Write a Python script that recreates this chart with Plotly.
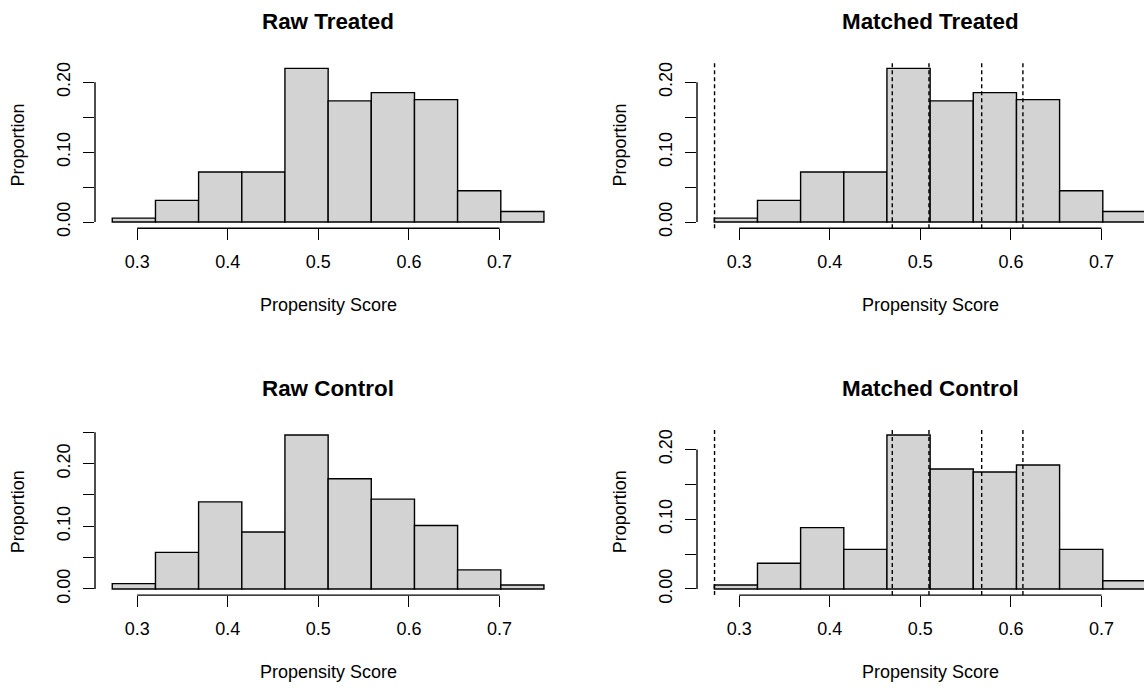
import plotly.graph_objects as go

# ---------------- data ----------------
breaks = [0.2725, 0.3202, 0.3678, 0.4155, 0.4631, 0.5108, 0.5584, 0.6061, 0.6537, 0.7014, 0.7490]

raw_treated = [0.0056, 0.0310, 0.0715, 0.0715, 0.2198, 0.1732, 0.1850, 0.1750, 0.0447, 0.0151]
matched_treated = [0.0056, 0.0310, 0.0715, 0.0715, 0.2198, 0.1732, 0.1850, 0.1750, 0.0447, 0.0151]
raw_control = [0.0084, 0.0583, 0.1390, 0.0908, 0.2457, 0.1759, 0.1433, 0.1013, 0.0304, 0.0063]
matched_control = [0.0057, 0.0369, 0.0879, 0.0567, 0.2208, 0.1721, 0.1678, 0.1778, 0.0567, 0.0118]

subclass_cuts = [0.2728, 0.4690, 0.5095, 0.5677, 0.6132]

x_ticks = [0.3, 0.4, 0.5, 0.6, 0.7]
x_tick_labels = ["0.3", "0.4", "0.5", "0.6", "0.7"]
y_ticks_020 = [0.00, 0.05, 0.10, 0.15, 0.20]
y_labels_020 = ["0.00", "", "0.10", "", "0.20"]
y_ticks_025 = [0.00, 0.05, 0.10, 0.15, 0.20, 0.25]
y_labels_025 = ["0.00", "", "0.10", "", "0.20", ""]

titles = ["Raw Treated", "Matched Treated", "Raw Control", "Matched Control"]
x_title = "Propensity Score"
y_title = "Proportion"

# ---------------- layout geometry ----------------
W, H = 1144, 695
FONT = "Liberation Sans, Arial, sans-serif"
LW = 1.4


def px(p):
    return p / W


def py(p):
    return 1 - p / H


centers = [(a + b) / 2 for a, b in zip(breaks[:-1], breaks[1:])]
widths = [b - a for a, b in zip(breaks[:-1], breaks[1:])]
ext = 0.04 * (breaks[-1] - breaks[0])
x_lo, x_hi = breaks[0] - ext, breaks[-1] + ext

left_px = (95.0, 561.2)
right_left_px = 697.0
px_per_unit = (left_px[1] - left_px[0]) / (x_hi - x_lo)
right_hi = x_lo + (W - right_left_px) / px_per_unit

rows = [(63.0, 231.2), (434.5, 602.9)]  # plot region top/bottom (pixels)

panels = [
    dict(title=titles[0], vals=raw_treated, yt=y_ticks_020, yl=y_labels_020, col=0, row=0, cuts=False),
    dict(title=titles[1], vals=matched_treated, yt=y_ticks_020, yl=y_labels_020, col=1, row=0, cuts=True),
    dict(title=titles[2], vals=raw_control, yt=y_ticks_025, yl=y_labels_025, col=0, row=1, cuts=False),
    dict(title=titles[3], vals=matched_control, yt=y_ticks_020, yl=y_labels_020, col=1, row=1, cuts=True),
]

fig = go.Figure()
layout = dict(
    width=W, height=H, autosize=False,
    margin=dict(l=0, r=0, t=0, b=0),
    paper_bgcolor="white", plot_bgcolor="white",
    showlegend=False,
    font=dict(family=FONT, color="black", size=18),
)
shapes = []
annotations = []

for i, p in enumerate(panels, start=1):
    sfx = "" if i == 1 else str(i)
    xa, ya = "x" + sfx, "y" + sfx
    fig.add_trace(go.Bar(
        x=centers, y=p["vals"], width=widths,
        marker=dict(color="#D3D3D3", line=dict(color="black", width=LW)),
        xaxis=xa, yaxis=ya, hoverinfo="skip",
    ))
    ymax = max(p["vals"])
    top, bot = rows[p["row"]]
    if p["col"] == 0:
        xdom = [px(left_px[0]), px(left_px[1])]
        xr = [x_lo, x_hi]
    else:
        xdom = [px(right_left_px), 1.0]
        xr = [x_lo, right_hi]
    ydom = [py(bot), py(top)]

    layout["xaxis" + sfx] = dict(
        domain=xdom, range=xr, anchor=ya, showgrid=False, zeroline=False, showline=False,
        ticks="outside", ticklen=11, tickwidth=LW, tickcolor="black",
        tickvals=x_ticks, ticktext=x_tick_labels, tickfont=dict(size=18, color="black", family=FONT),
        ticklabelstandoff=6,
    )
    layout["yaxis" + sfx] = dict(
        domain=ydom, range=[-0.04 * ymax, 1.04 * ymax], anchor=xa, showgrid=False, zeroline=False,
        showline=False, ticks="outside", ticklen=11, tickwidth=LW, tickcolor="black",
        tickvals=p["yt"], ticktext=p["yl"], tickangle=-90,
        tickfont=dict(size=18, color="black", family=FONT),
        ticklabelstandoff=6,
    )

    # axis lines spanning first..last tick (R style)
    shapes.append(dict(type="line", xref=xa, x0=min(x_ticks), x1=max(x_ticks),
                       yref=ya + " domain", y0=0, y1=0, line=dict(color="black", width=LW)))
    shapes.append(dict(type="line", xref=xa + " domain", x0=0, x1=0,
                       yref=ya, y0=min(p["yt"]), y1=max(p["yt"]), line=dict(color="black", width=LW)))

    if p["cuts"]:
        for c in subclass_cuts:
            shapes.append(dict(type="line", xref=xa, x0=c, x1=c, yref=ya + " domain", y0=0, y1=1,
                               line=dict(color="black", width=LW, dash="4px,3px")))

    xmid = (x_lo + x_hi) / 2
    annotations.append(dict(text="<b>%s</b>" % p["title"], xref=xa, x=xmid, yref="paper",
                            y=py(top - 41), xanchor="center", yanchor="middle", showarrow=False,
                            font=dict(size=22.4, color="black", family=FONT)))
    annotations.append(dict(text=x_title, xref=xa, x=xmid, yref="paper", y=py(bot + 78),
                            xanchor="center", yanchor="middle", showarrow=False,
                            font=dict(size=18, color="black", family=FONT)))
    yl_x = 18.3 if p["col"] == 0 else 18.3 + (right_left_px - left_px[0])
    annotations.append(dict(text=y_title, xref="paper", x=px(yl_x), yref="paper",
                            y=py((top + bot) / 2), xanchor="center", yanchor="middle",
                            textangle=-90, showarrow=False,
                            font=dict(size=18, color="black", family=FONT)))

layout["shapes"] = shapes
layout["annotations"] = annotations
fig.update_layout(**layout)
fig.write_html(
    "out.html",
    config={"displayModeBar": False},
    post_script="document.body.style.margin='0';document.documentElement.style.overflow='hidden';",
)
